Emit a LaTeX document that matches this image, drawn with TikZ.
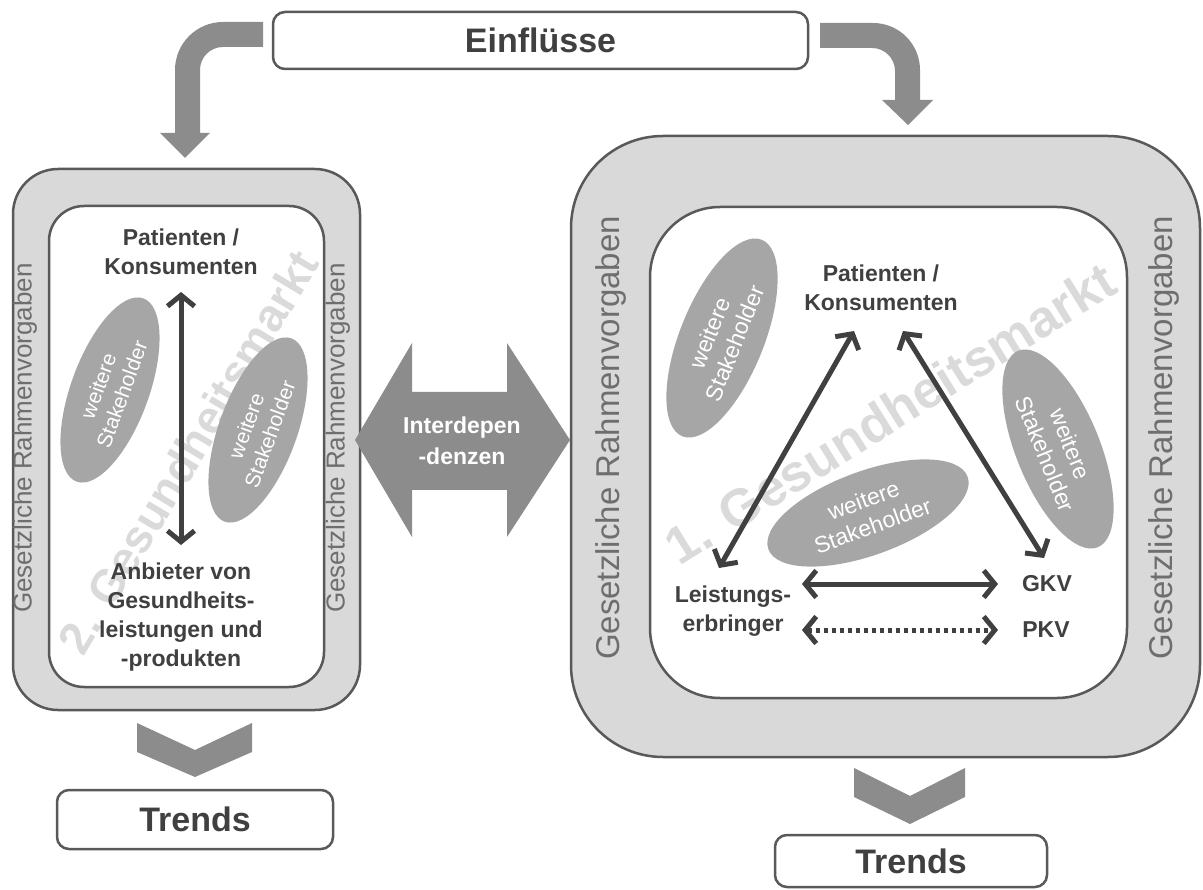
\documentclass[tikz,border=0pt]{standalone}
\usepackage{fontspec}
\setmainfont{Liberation Sans}
\usetikzlibrary{shapes.geometric,arrows.meta,calc}
\definecolor{rahmen}{HTML}{D9D9D9}
\definecolor{rand}{HTML}{595959}
\definecolor{pfeil}{HTML}{8C8C8C}
\definecolor{oval}{HTML}{A6A6A6}
\definecolor{schrift}{HTML}{404040}
\definecolor{grau}{HTML}{6E6E6E}
\definecolor{wasser}{HTML}{DADADA}

\begin{document}
\begin{tikzpicture}
[x=1pt,y=-1pt,
outerbox/.style={draw=rand,line width=2.5pt,fill=rahmen,inner sep=0},
innerbox/.style={draw=rand,line width=2.5pt,fill=white,inner sep=0},
titlebox/.style={draw=rand,line width=2.5pt,fill=white,rounded corners=12pt,text=schrift,font=\fontsize{34}{36}\selectfont\bfseries},
actor/.style={text=schrift,align=center,inner sep=0,font=\fontsize{23}{29}\selectfont\bfseries},
stake/.style={ellipse,fill=oval,text=white,align=center,inner sep=0},
gesetz/.style={text=grau,inner sep=0,rotate=90},
watermark/.style={text=wasser,inner sep=0,font=\bfseries},
bigarrow/.style={fill=pfeil},
link/.style={draw=schrift,line width=5pt,{Straight Barb[length=11pt,width=27pt]}-{Straight Barb[length=11pt,width=27pt]}}]
\fill[white] (0,0) rectangle (1203,890);
\useasboundingbox (0,0) rectangle (1203,890);

% Einfluesse oben
\node[titlebox,minimum width=535pt,minimum height=57pt] (einfl) at (540.5,40.5) {Einflüsse};
\fill[bigarrow] (263,22) -- (223,22) .. controls (196.5,22) and (175,43.5) .. (175,70) -- (175,133) -- (160,133) -- (185,158) -- (210,133) -- (200,133) -- (200,70) .. controls (200,57.3) and (210.3,47) .. (223,47) -- (263,47) -- cycle;
\fill[bigarrow] (820,23) -- (873,23) .. controls (899,23) and (920,44) .. (920,70) -- (920,100) -- (933,100) -- (908,125) -- (882,100) -- (895,100) -- (895,71) .. controls (895,58.3) and (884.7,48) .. (872,48) -- (820,48) -- cycle;

% 2. Gesundheitsmarkt
\node[outerbox,rounded corners=45pt,minimum width=347pt,minimum height=541pt] (lout) at (186.5,439.5) {};
\node[innerbox,rounded corners=35pt,minimum width=275pt,minimum height=481pt] (lin) at (186.5,446.5) {};
\node[gesetz,font=\fontsize{26}{26}\selectfont] (lg1) at (25,438) {Gesetzliche Rahmenvorgaben};
\node[gesetz,font=\fontsize{26}{26}\selectfont] (lg2) at (338,438) {Gesetzliche Rahmenvorgaben};
\node[watermark,rotate=59,font=\fontsize{46}{46}\selectfont\bfseries] (gm2) at (188,452) {2. Gesundheitsmarkt};
\node[stake,rotate=70,minimum width=195pt,minimum height=78pt,font=\fontsize{21}{25}\selectfont] (ls1) at (110,390) {weitere\\Stakeholder};
\node[stake,rotate=70,minimum width=195pt,minimum height=78pt,font=\fontsize{21}{25}\selectfont] (ls2) at (258,430) {weitere\\Stakeholder};
\node[actor] (pl) at (181,252) {Patienten /\\Konsumenten};
\node[actor] (an) at (181,617) {Anbieter von\\Gesundheits-\\leistungen und\\-produkten};
\draw[link] ($(pl)+(0,40)$) -- ($(an)+(0,-72)$);

% 1. Gesundheitsmarkt
\node[outerbox,rounded corners=92pt,minimum width=629pt,minimum height=621pt] (rout) at (885.5,446.5) {};
\node[innerbox,rounded corners=70pt,minimum width=477pt,minimum height=491pt] (rin) at (888.5,452.5) {};
\node[gesetz,font=\fontsize{33}{33}\selectfont] (rg1) at (611,438) {Gesetzliche Rahmenvorgaben};
\node[gesetz,font=\fontsize{33}{33}\selectfont] (rg2) at (1164,438) {Gesetzliche Rahmenvorgaben};
\node[watermark,rotate=32,font=\fontsize{52}{52}\selectfont\bfseries] (gm1) at (890,413) {1. Gesundheitsmarkt};
\node[stake,rotate=68,minimum width=212pt,minimum height=84pt,font=\fontsize{23}{27}\selectfont] (rs1) at (722,338) {weitere\\Stakeholder};
\node[stake,rotate=-68,minimum width=212pt,minimum height=84pt,font=\fontsize{23}{27}\selectfont] (rs2) at (1058,449) {weitere\\Stakeholder};
\node[stake,rotate=20,minimum width=212pt,minimum height=84pt,font=\fontsize{23}{27}\selectfont] (rs3) at (868,513) {weitere\\Stakeholder};
\node[actor] (pr) at (881,288) {Patienten /\\Konsumenten};
\node[actor] (ls) at (733,611) {Leistungs-\\erbringer};
\node[actor] (gkv) at (1047,584) {GKV};
\node[actor] (pkv) at (1046,630) {PKV};
\draw[link] ($(pr)+(-27,43)$) -- ($(ls)+(-14,-43)$);
\draw[link] ($(pr)+(22,43)$) -- ($(gkv)+(-3,-26)$);
\draw[link] ($(ls)+(69,-27)$) -- ($(gkv)+(-49,0)$);
\draw[link,dash pattern=on 4pt off 4pt] ($(ls)+(69,19)$) -- ($(pkv)+(-48,0)$);

% Interdependenzen
\fill[pfeil] (355,440) -- (412,343) -- (412,392) -- (507,392) -- (507,343) -- (570,440) -- (507,537) -- (507,490) -- (412,490) -- (412,537) -- cycle;
\node[actor,text=white,font=\fontsize{23}{31}\selectfont\bfseries] (ia) at (462,441) {Interdepen\\-denzen};

% Trends unten
\fill[bigarrow] (137,723) -- (195,750) -- (252,723) -- (252,752) -- (195,777) -- (137,752) -- cycle;
\fill[bigarrow] (854,768) -- (910,796) -- (965,768) -- (965,797) -- (910,824) -- (854,797) -- cycle;
\node[titlebox,minimum width=276pt,minimum height=59pt] (tl) at (195,819.5) {Trends};
\node[titlebox,minimum width=272pt,minimum height=52pt] (tr) at (911,861) {Trends};
\end{tikzpicture}
\end{document}
